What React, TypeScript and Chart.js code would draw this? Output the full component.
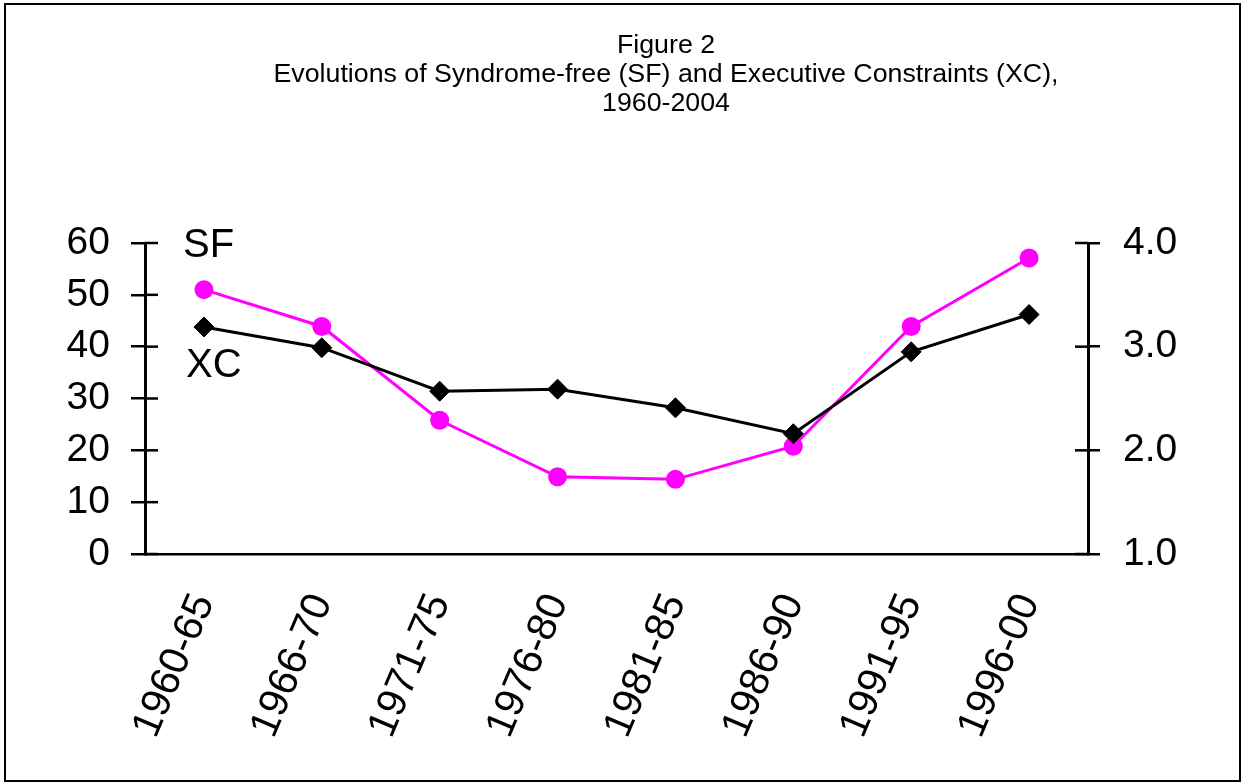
import React, { useEffect, useRef } from "react";
import { Chart, registerables } from "chart.js";

Chart.register(...registerables);

const categories = ["1960-65", "1966-70", "1971-75", "1976-80", "1981-85", "1986-90", "1991-95", "1996-00"];
const sfValues = [51.0, 43.9, 25.8, 14.9, 14.4, 20.8, 43.9, 57.1];
const xcValues = [3.19, 2.99, 2.57, 2.59, 2.41, 2.16, 2.95, 3.31];
const titleLines = ["Figure 2", "Evolutions of Syndrome-free (SF) and Executive Constraints (XC),", "1960-2004"];
const seriesLabels = ["SF", "XC"];
const leftTicks = { min: 0, max: 60, step: 10 };
const rightTicks = { min: 1, max: 4, step: 1 };

const FONT = "'Liberation Sans', Arial, Helvetica, sans-serif";

const decorPlugin = {
  id: "decor",
  afterDraw(chart: any) {
    const ctx = chart.ctx;
    const area = chart.chartArea;
    ctx.save();
    ctx.strokeStyle = "#000";
    ctx.lineWidth = 2.5;
    const y = chart.scales.y;
    y.ticks.forEach((_t: any, i: number) => {
      const py = y.getPixelForTick(i);
      ctx.beginPath();
      ctx.moveTo(area.left, py);
      ctx.lineTo(area.left + 13, py);
      ctx.stroke();
    });
    const y1 = chart.scales.y1;
    y1.ticks.forEach((_t: any, i: number) => {
      const py = y1.getPixelForTick(i);
      ctx.beginPath();
      ctx.moveTo(area.right, py);
      ctx.lineTo(area.right - 13, py);
      ctx.stroke();
    });
    // title (slightly widened like the source)
    ctx.fillStyle = "#000";
    ctx.font = `25px ${FONT}`;
    ctx.textAlign = "center";
    ctx.textBaseline = "alphabetic";
    titleLines.forEach((line, i) => {
      ctx.save();
      ctx.translate(666, 53 + i * 29);
      ctx.scale(1.07, 1);
      ctx.fillText(line, 0, 0);
      ctx.restore();
    });
    // series labels
    ctx.font = `40px ${FONT}`;
    ctx.textAlign = "left";
    ctx.fillText(seriesLabels[0], 183, 257);
    ctx.fillText(seriesLabels[1], 186, 377);
    ctx.restore();
  },
};

export default function App() {
  const ref = useRef<HTMLCanvasElement | null>(null);

  useEffect(() => {
    if (!ref.current) return;
    const chart = new Chart(ref.current, {
      type: "line",
      data: {
        labels: categories,
        datasets: [
          {
            label: seriesLabels[0],
            data: sfValues,
            yAxisID: "y",
            borderColor: "#FF00FF",
            backgroundColor: "#FF00FF",
            borderWidth: 3,
            pointStyle: "circle",
            pointRadius: 9.5,
            pointBorderWidth: 0,
            pointBackgroundColor: "#FF00FF",
            tension: 0,
            order: 1,
          },
          {
            label: seriesLabels[1],
            data: xcValues,
            yAxisID: "y1",
            borderColor: "#000000",
            backgroundColor: "#000000",
            borderWidth: 3,
            pointStyle: "rectRot",
            pointRadius: 10,
            pointBorderWidth: 1,
            pointBorderColor: "#000000",
            pointBackgroundColor: "#000000",
            tension: 0,
            order: 0,
          },
        ],
      },
      options: {
        responsive: false,
        animation: false,
        events: [],
        layout: { padding: { top: 243, left: 0, right: 0, bottom: 0 } },
        plugins: {
          legend: { display: false },
          tooltip: { enabled: false },
          title: { display: false },
        },
        scales: {
          x: {
            type: "category",
            offset: true,
            grid: { display: false, drawTicks: false },
            border: { display: true, color: "#000", width: 2.5 },
            ticks: {
              autoSkip: false,
              minRotation: 67,
              maxRotation: 67,
              padding: 33,
              color: "#000",
              font: { family: FONT, size: 41 },
            },
            afterFit: (s: any) => {
              s.height = 229;
            },
          },
          y: {
            position: "left",
            min: leftTicks.min,
            max: leftTicks.max,
            ticks: {
              stepSize: leftTicks.step,
              padding: 21,
              color: "#000",
              font: { family: FONT, size: 39 },
            },
            grid: { drawOnChartArea: false, drawTicks: true, tickLength: 14, color: "#000", lineWidth: 2.5 },
            border: { display: true, color: "#000", width: 3 },
            afterFit: (s: any) => {
              s.width = 145;
            },
          },
          y1: {
            position: "right",
            min: rightTicks.min,
            max: rightTicks.max,
            ticks: {
              stepSize: rightTicks.step,
              padding: 23,
              color: "#000",
              font: { family: FONT, size: 39 },
              callback: (v: any) => Number(v).toFixed(1),
            },
            grid: { drawOnChartArea: false, drawTicks: true, tickLength: 12, color: "#000", lineWidth: 2.5 },
            border: { display: true, color: "#000", width: 3 },
            afterFit: (s: any) => {
              s.width = 160;
            },
          },
        },
      },
      plugins: [decorPlugin],
    });
    return () => chart.destroy();
  }, []);

  return (
    <div style={{ position: "absolute", left: 0, top: 0, width: 1248, height: 783, background: "#fff" }}>
      <canvas ref={ref} width={1248} height={783} style={{ display: "block" }} />
      <div
        style={{
          position: "absolute",
          left: 4,
          top: 3,
          width: 1237,
          height: 779,
          border: "2px solid #000",
          boxSizing: "border-box",
          pointerEvents: "none",
        }}
      />
    </div>
  );
}
